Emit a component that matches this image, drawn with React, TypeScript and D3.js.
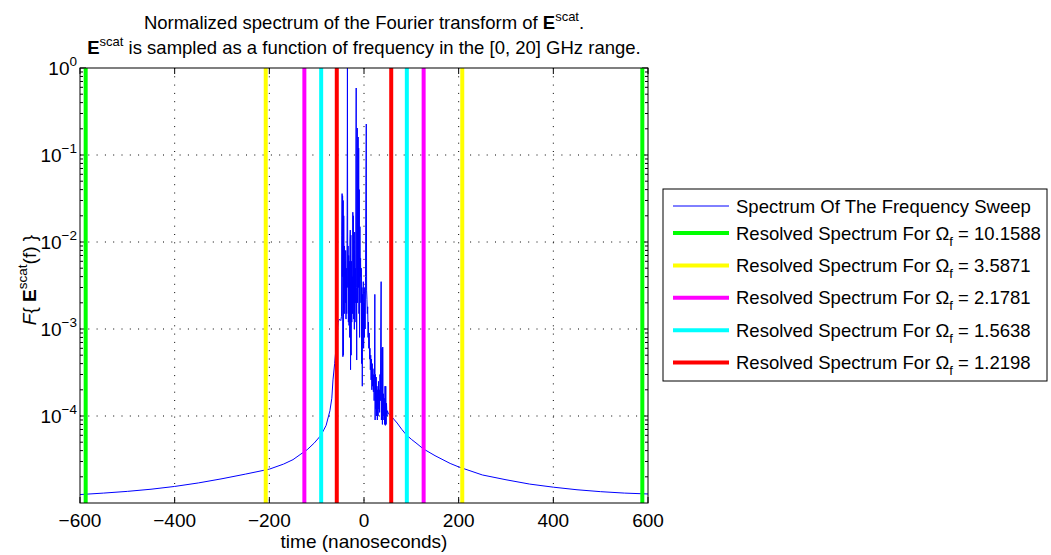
import React from "react";
import * as d3 from "d3";

// ---------- data ----------
const xTicks = [-600, -400, -200, 0, 200, 400, 600];
const xGridTicks = [-400, -200, 0, 200, 400];
const yTickExponents = [0, -1, -2, -3, -4];
const yGridExponents = [-1, -2, -3, -4];

const spectrumTime = [
  -600, -550, -500, -450, -400, -350, -300, -250, -200, -170, -150, -135, -120, -105, -91, -80, -72, -68, -65.5, -62, -59, -56.5, -54.5,
  -52, -49, -47.5, -47, -46.3, -45.8, -45.2, -44.6, -44.0, -43.4, -42.8, -42.2, -41.5, -40.8, -40.1, -39.4, -38.7, -38.0, -37.3, -36.5,
  -35.6, -35.0, -34.4, -33.7, -33.0, -32.3, -31.6, -30.9, -30.2, -29.6, -29.0, -28.4, -27.8, -27.2, -26.5, -25.8, -25.0, -24.2, -23.6,
  -23.0, -22.4, -21.8, -21.1, -20.4, -19.7, -19.0, -18.3, -17.6, -17.0, -16.5, -16.0, -15.4, -14.8, -14.2, -13.6, -13.0, -12.4, -11.8,
  -11.2, -10.6, -10.0, -9.3, -8.6, -7.9, -7.2, -6.5, -5.8, -5.0, -4.3, -3.6, -2.9, -2.2, -1.5, -0.8, 0, 0.8, 1.6, 2.4, 3.2, 4.0, 4.8,
  5.5, 6.2, 7.0, 7.8, 8.6, 9.4, 10.2, 11.0, 11.8, 12.6, 13.4, 14.2, 15.0, 15.8, 16.6, 17.4, 18.2, 19.0, 19.8, 20.6, 21.4, 22.2, 22.9,
  23.5, 24.2, 25.0, 25.8, 26.6, 27.4, 28.2, 29.0, 29.8, 30.6, 31.4, 32.2, 33.0, 33.8, 34.6, 35.4, 36.2, 36.8, 37.5, 38.2, 38.9, 39.6,
  40.4, 41.2, 42.0, 42.8, 43.6, 44.4, 45.2, 46.0, 46.8, 47.6, 48.4, 49.5, 51,
  53, 57, 63, 70, 80, 89, 100, 112, 125, 150, 182, 200, 250, 300, 350, 400, 450, 500, 550, 600,
];

const spectrumValue = [
  1.25e-5, 1.3e-5, 1.36e-5, 1.44e-5, 1.55e-5, 1.7e-5, 1.9e-5, 2.15e-5, 2.45e-5, 2.8e-5, 3.15e-5, 3.6e-5, 4.1e-5, 4.9e-5, 6.0e-5, 7.8e-5, 1.15e-4, 1.6e-4, 2.6e-4, 4.0e-4, 6.2e-4, 9e-4, 1.2e-3,
  1.3e-3, 1.25e-3, 1.4e-3, 0.012, 0.036, 0.004, 0.034, 0.00048, 0.03, 0.0005, 0.02, 0.004, 0.009, 0.0015, 0.006, 0.002, 0.008, 0.0013, 0.005, 0.0015,
  0.02, 1.0, 0.003, 0.009, 0.0012, 0.007, 0.0011, 0.006, 0.0008, 0.01, 0.0137, 0.00034, 0.012, 0.0005, 0.006, 0.0012, 0.004, 0.0015, 0.022,
  0.002, 0.02, 0.0013, 0.008, 0.001, 0.013, 0.0012, 0.005, 0.002, 0.1, 0.589, 0.003, 0.00044, 0.06, 0.204, 0.002, 0.05, 0.161, 0.003,
  0.12, 0.0015, 0.04, 0.0008, 0.015, 0.004, 0.0065, 0.002, 0.005, 0.0004, 0.003, 0.00022, 0.0025, 0.0009, 0.0035, 0.0006, 0.002, 0.0008, 0.003, 0.001, 0.004, 0.05, 0.227,
  0.0028, 0.0022, 0.0015, 0.0018, 0.0008, 0.0012, 0.0006, 0.0009, 0.00045, 0.0006, 0.00034, 0.0005, 0.00026, 0.00045, 0.0002, 0.0004, 0.00022, 0.00035, 0.00019, 0.0003, 0.00015, 0.0003, 0.0025,
  0.00009, 0.0003, 0.00012, 0.00028, 0.0001, 0.00022, 0.00009, 0.0002, 0.0001, 0.00025, 0.00012, 0.0002, 0.00011, 0.0003, 0.00015, 0.001, 0.0035, 0.00009, 0.0002, 0.0006, 0.00008, 0.00062,
  0.0001, 0.00018, 0.00009, 0.00016, 0.00008, 0.00022, 0.000078, 0.00022, 0.00008, 0.00014, 0.0001, 0.000115, 0.000108,
  1.04e-4, 1.0e-4, 9.2e-5, 8.3e-5, 7.0e-5, 6.1e-5, 5.4e-5, 4.8e-5, 4.2e-5, 3.5e-5, 2.85e-5, 2.6e-5, 2.1e-5, 1.85e-5, 1.65e-5, 1.52e-5, 1.42e-5, 1.35e-5, 1.3e-5, 1.27e-5,
];

const resolvedOmega = ["10.1588", "3.5871", "2.1781", "1.5638", "1.2198"];
const resolvedHalfWidth = [588, 207.6, 126, 90.5, 57.5];
const resolvedColors = ["#00ff00", "#ffff00", "#ff00ff", "#00ffff", "#ff0000"];

// ---------- layout ----------
const W = 1051;
const H = 555;
const L = 80;
const R = 648;
const T = 68;
const B = 503;
const FONT = "'Liberation Sans', Arial, Helvetica, sans-serif";
const OMEGA = "\u03a9";

export default function App() {
  const x = d3.scaleLinear().domain([-600, 600]).range([L, R]);
  const y = d3.scaleLog().domain([1e-5, 1]).range([B, T]);

  const idx = spectrumTime.map((_, i) => i);
  const line = d3
    .line<number>()
    .x((i) => x(spectrumTime[i]))
    .y((i) => y(spectrumValue[i]));

  const minorTicks: number[] = [];
  for (let e = -5; e < 0; e++) {
    for (let m = 2; m <= 9; m++) minorTicks.push(m * Math.pow(10, e));
  }

  const legendRowY = (i: number) => (i === 0 ? 206 : 233 + (i - 1) * 32.4);

  return (
    <svg
      width={W}
      height={H}
      style={{ position: "absolute", left: 0, top: 0, background: "#fff" }}
      fontFamily={FONT}
    >
      <rect x={0} y={0} width={W} height={H} fill="#fff" />
      <defs>
        <clipPath id="plotclip">
          <rect x={L} y={T} width={R - L} height={B - T} />
        </clipPath>
      </defs>

      {/* grid */}
      {xGridTicks.map((t) => (
        <line key={"gx" + t} x1={x(t)} x2={x(t)} y1={T} y2={B} stroke="#000" strokeWidth={1} strokeDasharray="1,7.3" />
      ))}
      {yGridExponents.map((e) => (
        <line key={"gy" + e} x1={L} x2={R} y1={y(Math.pow(10, e))} y2={y(Math.pow(10, e))} stroke="#000" strokeWidth={1} strokeDasharray="1,7.3" />
      ))}

      {/* ticks */}
      {xTicks.map((t) => (
        <g key={"xt" + t}>
          <line x1={x(t)} x2={x(t)} y1={B} y2={B - 6} stroke="#000" />
          <line x1={x(t)} x2={x(t)} y1={T} y2={T + 6} stroke="#000" />
        </g>
      ))}
      {yTickExponents.map((e) => (
        <g key={"yt" + e}>
          <line x1={L} x2={L + 6} y1={y(Math.pow(10, e))} y2={y(Math.pow(10, e))} stroke="#000" />
          <line x1={R} x2={R - 6} y1={y(Math.pow(10, e))} y2={y(Math.pow(10, e))} stroke="#000" />
        </g>
      ))}
      {minorTicks.map((v, i) => (
        <g key={"mt" + i}>
          <line x1={L} x2={L + 3} y1={y(v)} y2={y(v)} stroke="#000" />
          <line x1={R} x2={R - 3} y1={y(v)} y2={y(v)} stroke="#000" />
        </g>
      ))}

      {/* data */}
      <g clipPath="url(#plotclip)">
        <path d={line(idx) || ""} fill="none" stroke="#0000ff" strokeWidth={1} />
        {resolvedHalfWidth.map((w, k) => (
          <g key={"rl" + k}>
            <line x1={x(-w)} x2={x(-w)} y1={T} y2={B} stroke={resolvedColors[k]} strokeWidth={4} />
            <line x1={x(w)} x2={x(w)} y1={T} y2={B} stroke={resolvedColors[k]} strokeWidth={4} />
          </g>
        ))}
      </g>

      {/* box */}
      <rect x={L} y={T} width={R - L} height={B - T} fill="none" stroke="#000" strokeWidth={1} />

      {/* tick labels */}
      {xTicks.map((t) => (
        <text key={"xl" + t} x={x(t)} y={527} textAnchor="middle" fontSize={19} fill="#000">
          {t < 0 ? "\u2212" + Math.abs(t) : String(t)}
        </text>
      ))}
      {yTickExponents.map((e) => (
        <text key={"yl" + e} x={77} y={y(Math.pow(10, e)) + 6.5} textAnchor="end" fontSize={19} fill="#000">
          <tspan>10</tspan>
          <tspan dy={-9} fontSize={13.5}>{e < 0 ? "\u2212" + Math.abs(e) : String(e)}</tspan>
        </text>
      ))}

      {/* axis labels */}
      <text x={(L + R) / 2} y={548} textAnchor="middle" fontSize={19} fill="#000">
        time (nanoseconds)
      </text>
      <text transform="translate(36, 280) rotate(-90)" textAnchor="middle" fontSize={19} fill="#000">
        <tspan fontStyle="italic">F</tspan>
        <tspan>{"{ "}</tspan>
        <tspan fontWeight="bold">E</tspan>
        <tspan dy={-9} fontSize={13.5}>scat</tspan>
        <tspan dy={9}>{"(f) }"}</tspan>
      </text>

      {/* title */}
      <text x={(L + R) / 2} y={29} textAnchor="middle" fontSize={18.5} fill="#000">
        <tspan>Normalized spectrum of the Fourier transform of </tspan>
        <tspan fontWeight="bold">E</tspan>
        <tspan dy={-8} fontSize={13}>scat</tspan>
        <tspan dy={8}>.</tspan>
      </text>
      <text x={(L + R) / 2} y={54} textAnchor="middle" fontSize={18.5} fill="#000">
        <tspan fontWeight="bold">E</tspan>
        <tspan dy={-8} fontSize={13}>scat</tspan>
        <tspan dy={8}> is sampled as a function of frequency in the [0, 20] GHz range.</tspan>
      </text>

      {/* legend */}
      <rect x={663} y={189} width={384} height={192} fill="#fff" stroke="#000" strokeWidth={1} />
      <line x1={673} x2={729} y1={legendRowY(0)} y2={legendRowY(0)} stroke="#0000ff" strokeWidth={1} />
      <text x={736} y={legendRowY(0) + 6.5} fontSize={18.5} fill="#000">
        Spectrum Of The Frequency Sweep
      </text>
      {resolvedOmega.map((om, k) => (
        <g key={"lg" + k}>
          <line x1={673} x2={729} y1={legendRowY(k + 1)} y2={legendRowY(k + 1)} stroke={resolvedColors[k]} strokeWidth={4} />
          <text x={736} y={legendRowY(k + 1) + 6.5} fontSize={18.5} fill="#000">
            <tspan>{"Resolved Spectrum For " + OMEGA}</tspan>
            <tspan dy={6} fontSize={13}>f</tspan>
            <tspan dy={-6}>{" = " + om}</tspan>
          </text>
        </g>
      ))}
    </svg>
  );
}
